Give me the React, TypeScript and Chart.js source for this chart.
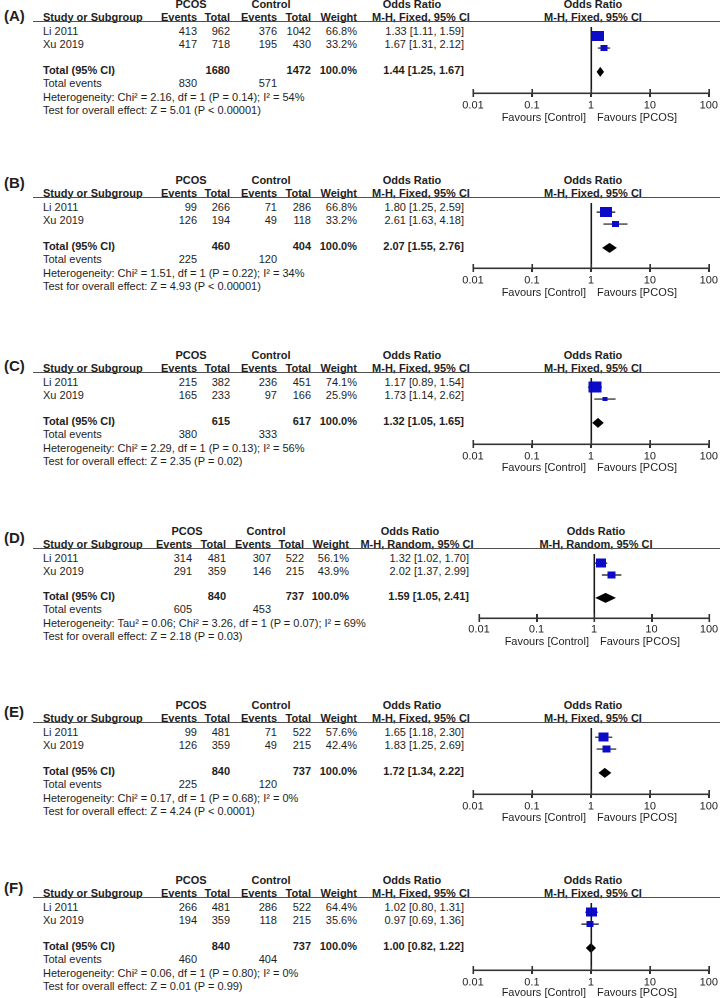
import React, { useEffect, useRef, useState } from "react";
import { Chart, registerables } from "chart.js";

Chart.register(...registerables);

// ---------------- DATA ----------------
const panelLabels = ["(A)", "(B)", "(C)", "(D)", "(E)", "(F)"];
const methods = ["Fixed", "Fixed", "Fixed", "Random", "Fixed", "Fixed"];
const studyNames = ["Li 2011", "Xu 2019"];
const pcosEvents = [[413, 417], [99, 126], [215, 165], [314, 291], [99, 126], [266, 194]];
const pcosTotals = [[962, 718], [266, 194], [382, 233], [481, 359], [481, 359], [481, 359]];
const controlEvents = [[376, 195], [71, 49], [236, 97], [307, 146], [71, 49], [286, 118]];
const controlTotals = [[1042, 430], [286, 118], [451, 166], [522, 215], [522, 215], [522, 215]];
const weights = [[66.8, 33.2], [66.8, 33.2], [74.1, 25.9], [56.1, 43.9], [57.6, 42.4], [64.4, 35.6]];
const oddsRatios = [[1.33, 1.67], [1.8, 2.61], [1.17, 1.73], [1.32, 2.02], [1.65, 1.83], [1.02, 0.97]];
const ciLower = [[1.11, 1.31], [1.25, 1.63], [0.89, 1.14], [1.02, 1.37], [1.18, 1.25], [0.8, 0.69]];
const ciUpper = [[1.59, 2.12], [2.59, 4.18], [1.54, 2.62], [1.7, 2.99], [2.3, 2.69], [1.31, 1.36]];
const pooledOR = [1.44, 2.07, 1.32, 1.59, 1.72, 1.0];
const pooledLower = [1.25, 1.55, 1.05, 1.05, 1.34, 0.82];
const pooledUpper = [1.67, 2.76, 1.65, 2.41, 2.22, 1.22];
const pcosTotalSum = [1680, 460, 615, 840, 840, 840];
const controlTotalSum = [1472, 404, 617, 737, 737, 737];
const pcosEventSum = [830, 225, 380, 605, 225, 460];
const controlEventSum = [571, 120, 333, 453, 120, 404];
const heterogeneity = [
  "Heterogeneity: Chi\u00b2 = 2.16, df = 1 (P = 0.14); I\u00b2 = 54%",
  "Heterogeneity: Chi\u00b2 = 1.51, df = 1 (P = 0.22); I\u00b2 = 34%",
  "Heterogeneity: Chi\u00b2 = 2.29, df = 1 (P = 0.13); I\u00b2 = 56%",
  "Heterogeneity: Tau\u00b2 = 0.06; Chi\u00b2 = 3.26, df = 1 (P = 0.07); I\u00b2 = 69%",
  "Heterogeneity: Chi\u00b2 = 0.17, df = 1 (P = 0.68); I\u00b2 = 0%",
  "Heterogeneity: Chi\u00b2 = 0.06, df = 1 (P = 0.80); I\u00b2 = 0%",
];
const overallTests = [
  "Test for overall effect: Z = 5.01 (P < 0.00001)",
  "Test for overall effect: Z = 4.93 (P < 0.00001)",
  "Test for overall effect: Z = 2.35 (P = 0.02)",
  "Test for overall effect: Z = 2.18 (P = 0.03)",
  "Test for overall effect: Z = 4.24 (P < 0.0001)",
  "Test for overall effect: Z = 0.01 (P = 0.99)",
];
const tickValues = [0.01, 0.1, 1, 10, 100];
const tickLabels = ["0.01", "0.1", "1", "10", "100"];
const nullEffect = 1;
const favoursLeft = "Favours [Control]";
const favoursRight = "Favours [PCOS]";

// ---------------- LAYOUT ----------------
const FONT = "'Liberation Sans', Arial, Helvetica, sans-serif";
const TEXT = "#1e1e1e";
const LINE = "#1a1a1a";
const AXIS = "#333333";
const panelTop = [17, 193, 368, 544, 718, 893];
const labelTop = [15, 182, 365, 537, 711, 887];
const axisOffset = [76, 75, 76, 74, 76, 77];
const favoursOffset = [100, 99, 99, 97, 99, 99];
const standardLayout = {
  cols: [197, 230, 277, 311, 357],
  pcosCenter: 191,
  controlCenter: 271,
  orRight: 464,
  orHeadCenter: 412,
  orSubCenter: 421,
  plotLeft: 473,
  rows: [14, 27, 53, 66, 80, 93],
};
const randomLayout = {
  cols: [192, 226, 271, 304, 349],
  pcosCenter: 187,
  controlCenter: 266,
  orRight: 469,
  orHeadCenter: 410,
  orSubCenter: 417,
  plotLeft: 479,
  rows: [14, 27, 52, 65, 79, 92],
};
const PLOT_RIGHT = 709;
const CANVAS_LEFT = 440;
const CANVAS_W = 280;
const AXIS_H = 22;
const ROW_PITCH = 13;

type Align = "left" | "right" | "center";

function T(props: { x: number; y: number; text: string; align?: Align; bold?: boolean; size?: number }) {
  const { x, y, text, align = "left", bold = false, size = 11 } = props;
  const lh = size + 2;
  const tx = align === "left" ? "0" : align === "right" ? "-100%" : "-50%";
  return (
    <div
      style={{
        position: "absolute",
        left: x,
        top: y - Math.round(lh / 2) + 0.5,
        transform: `translateX(${tx})`,
        whiteSpace: "nowrap",
        fontFamily: FONT,
        fontSize: size,
        lineHeight: `${lh}px`,
        fontWeight: bold ? 700 : 400,
        color: TEXT,
      }}
    >
      {text}
    </div>
  );
}

function squareStyle(w: number) {
  const width = Math.max(3, Math.round(0.405 * Math.pow(w, 0.8)));
  const height = Math.max(3, Math.round(width * 0.86));
  const c = document.createElement("canvas");
  c.width = width;
  c.height = height;
  const g = c.getContext("2d")!;
  g.fillStyle = "#0b0bc8";
  g.fillRect(0, 0, width, height);
  return c;
}

type Geo = { ref: number; top: number; bottom: number; ticks: number[] };

function Panel({ p }: { p: number }) {
  const ref = useRef<HTMLCanvasElement | null>(null);
  const [geo, setGeo] = useState<Geo | null>(null);
  const L = methods[p] === "Random" ? randomLayout : standardLayout;
  const y0 = panelTop[p];
  const ax = axisOffset[p];
  const canvasTop = y0 + 4;
  const canvasH = ax - 4 + AXIS_H;
  const onePx = L.plotLeft + ((PLOT_RIGHT - L.plotLeft) * 2) / 4;

  useEffect(() => {
    if (!ref.current) return;
    const yMin = (4 - L.rows[0]) / ROW_PITCH;
    const yMax = (ax - L.rows[0]) / ROW_PITCH;
    const totalRow = (L.rows[2] - L.rows[0]) / ROW_PITCH;

    const forestPlugin = {
      id: "forest" + p,
      beforeDatasetsDraw(chart: any) {
        const { ctx, chartArea, scales } = chart;
        const x = scales.x;
        ctx.save();
        ctx.fillStyle = LINE;
        const px = Math.round(x.getPixelForValue(nullEffect));
        ctx.fillRect(px - 0.5, chartArea.top, 1.6, chartArea.bottom - chartArea.top);
        ctx.fillStyle = AXIS;
        const x0 = x.getPixelForValue(tickValues[0]);
        const x1 = x.getPixelForValue(tickValues[tickValues.length - 1]);
        ctx.fillRect(x0, chartArea.bottom - 0.5, x1 - x0 + 1, 1.6);
        tickValues.forEach((v) => {
          const tx = x.getPixelForValue(v);
          ctx.fillRect(tx - 0.5, chartArea.bottom - 4, 1.6, 8);
        });
        ctx.restore();
      },
      afterDatasetsDraw(chart: any) {
        const { ctx, scales } = chart;
        const x = scales.x;
        const y = scales.y;
        const yc = y.getPixelForValue(totalRow);
        const xl = x.getPixelForValue(pooledLower[p]);
        const xm = x.getPixelForValue(pooledOR[p]);
        const xh = x.getPixelForValue(pooledUpper[p]);
        ctx.save();
        ctx.fillStyle = "#000";
        ctx.beginPath();
        ctx.moveTo(xl, yc);
        ctx.lineTo(xm, yc - 5);
        ctx.lineTo(xh, yc);
        ctx.lineTo(xm, yc + 5);
        ctx.closePath();
        ctx.fill();
        ctx.restore();
      },
    };

    const whiskers = studyNames.map((_, i) => ({
      type: "scatter" as const,
      data: [
        { x: ciLower[p][i], y: i },
        { x: ciUpper[p][i], y: i },
      ],
      showLine: true,
      borderColor: "#111",
      borderWidth: 1.2,
      pointRadius: 0,
      order: 2,
    }));

    const chart = new Chart(ref.current, {
      type: "scatter",
      data: {
        datasets: [
          {
            type: "scatter",
            data: studyNames.map((_, i) => ({ x: oddsRatios[p][i], y: i })),
            pointStyle: weights[p].map((w) => squareStyle(w)) as any,
            pointRadius: 6,
            borderWidth: 0,
            order: 1,
          } as any,
          ...whiskers,
        ],
      },
      options: {
        animation: false,
        responsive: false,
        devicePixelRatio: 2,
        events: [],
        plugins: { legend: { display: false }, tooltip: { enabled: false } },
        layout: {
          padding: { left: L.plotLeft - CANVAS_LEFT, right: CANVAS_LEFT + CANVAS_W - PLOT_RIGHT, top: 0, bottom: 0 },
        },
        scales: {
          x: {
            type: "logarithmic",
            position: "bottom",
            min: 0.01,
            max: 100,
            afterBuildTicks: (s: any) => {
              s.ticks = tickValues.map((v) => ({ value: v }));
            },
            afterFit: (s: any) => {
              s.height = AXIS_H;
            },
            ticks: {
              autoSkip: false,
              maxRotation: 0,
              padding: p === 3 ? 1 : 2,
              color: "#222",
              font: { family: FONT, size: 11 },
              callback: (v: any) => tickLabels[tickValues.indexOf(Number(v))] ?? "",
            },
            grid: { drawOnChartArea: false, drawTicks: true, tickLength: 4, color: AXIS, lineWidth: 1.5 },
            border: { display: true, color: AXIS, width: 1.5 },
          },
          y: { type: "linear", display: false, min: yMin, max: yMax, reverse: true },
        },
      },
      plugins: [forestPlugin],
    } as any);

    const xs: any = chart.scales.x;
    setGeo({
      ref: xs.getPixelForValue(nullEffect),
      top: chart.chartArea.top,
      bottom: chart.chartArea.bottom,
      ticks: tickValues.map((v) => xs.getPixelForValue(v)),
    });
    return () => chart.destroy();
  }, [p]);

  const r = L.rows;
  return (
    <>
      <T x={4} y={labelTop[p]} text={panelLabels[p]} bold size={15} />
      <T x={L.pcosCenter} y={y0 - 13} text="PCOS" bold align="center" />
      <T x={L.controlCenter} y={y0 - 13} text="Control" bold align="center" />
      <T x={L.orHeadCenter} y={y0 - 13} text="Odds Ratio" bold align="center" />
      <T x={onePx + 2} y={y0 - 13} text="Odds Ratio" bold align="center" />
      <T x={43} y={y0} text="Study or Subgroup" bold />
      <T x={L.cols[0]} y={y0} text="Events" bold align="right" />
      <T x={L.cols[1]} y={y0} text="Total" bold align="right" />
      <T x={L.cols[2]} y={y0} text="Events" bold align="right" />
      <T x={L.cols[3]} y={y0} text="Total" bold align="right" />
      <T x={L.cols[4]} y={y0} text="Weight" bold align="right" />
      <T x={L.orSubCenter} y={y0} text={`M-H, ${methods[p]}, 95% CI`} bold align="center" />
      <T x={onePx + 2} y={y0} text={`M-H, ${methods[p]}, 95% CI`} bold align="center" />
      <div style={{ position: "absolute", left: 33, top: y0 + 4, width: 720 - 33, height: 1, background: "#505050" }} />
      {studyNames.map((name, i) => (
        <React.Fragment key={name}>
          <T x={43} y={y0 + r[i]} text={name} />
          <T x={L.cols[0]} y={y0 + r[i]} text={String(pcosEvents[p][i])} align="right" />
          <T x={L.cols[1]} y={y0 + r[i]} text={String(pcosTotals[p][i])} align="right" />
          <T x={L.cols[2]} y={y0 + r[i]} text={String(controlEvents[p][i])} align="right" />
          <T x={L.cols[3]} y={y0 + r[i]} text={String(controlTotals[p][i])} align="right" />
          <T x={L.cols[4]} y={y0 + r[i]} text={`${weights[p][i].toFixed(1)}%`} align="right" />
          <T
            x={L.orRight}
            y={y0 + r[i]}
            text={`${oddsRatios[p][i].toFixed(2)} [${ciLower[p][i].toFixed(2)}, ${ciUpper[p][i].toFixed(2)}]`}
            align="right"
          />
        </React.Fragment>
      ))}
      <T x={43} y={y0 + r[2]} text="Total (95% CI)" bold />
      <T x={L.cols[1]} y={y0 + r[2]} text={String(pcosTotalSum[p])} bold align="right" />
      <T x={L.cols[3]} y={y0 + r[2]} text={String(controlTotalSum[p])} bold align="right" />
      <T x={L.cols[4]} y={y0 + r[2]} text="100.0%" bold align="right" />
      <T
        x={L.orRight}
        y={y0 + r[2]}
        text={`${pooledOR[p].toFixed(2)} [${pooledLower[p].toFixed(2)}, ${pooledUpper[p].toFixed(2)}]`}
        bold
        align="right"
      />
      <T x={43} y={y0 + r[3]} text="Total events" />
      <T x={L.cols[0]} y={y0 + r[3]} text={String(pcosEventSum[p])} align="right" />
      <T x={L.cols[2]} y={y0 + r[3]} text={String(controlEventSum[p])} align="right" />
      <T x={43} y={y0 + r[4]} text={heterogeneity[p]} />
      <T x={43} y={y0 + r[5]} text={overallTests[p]} />
      <canvas
        ref={ref}
        width={CANVAS_W}
        height={canvasH}
        style={{ position: "absolute", left: CANVAS_LEFT, top: canvasTop, width: CANVAS_W, height: canvasH }}
      />
      {geo && (
        <>
          <div
            style={{
              position: "absolute",
              left: CANVAS_LEFT + Math.round(geo.ref) - 0.5,
              top: canvasTop + Math.round(geo.top),
              width: 1.6,
              height: Math.round(geo.bottom - geo.top),
              background: LINE,
              zIndex: 5,
            }}
          />
          <div
            style={{
              position: "absolute",
              left: CANVAS_LEFT + Math.round(geo.ticks[0]),
              top: canvasTop + Math.round(geo.bottom) - 0.5,
              width: Math.round(geo.ticks[geo.ticks.length - 1] - geo.ticks[0]) + 1,
              height: 1.6,
              background: AXIS,
              zIndex: 5,
            }}
          />
          {geo.ticks.map((t, i) => (
            <div
              key={i}
              style={{
                position: "absolute",
                left: CANVAS_LEFT + Math.round(t) - 0.5,
                top: canvasTop + Math.round(geo.bottom) - 4,
                width: 1.6,
                height: 8,
                background: AXIS,
                zIndex: 5,
              }}
            />
          ))}
        </>
      )}
      <T x={onePx - 5} y={y0 + favoursOffset[p]} text={favoursLeft} align="right" />
      <T x={onePx + 6} y={y0 + favoursOffset[p]} text={favoursRight} />
    </>
  );
}

export default function App() {
  return (
    <div
      style={{
        position: "absolute",
        left: 0,
        top: 0,
        width: 720,
        height: 998,
        background: "#fff",
        overflow: "hidden",
      }}
    >
      {panelLabels.map((_, p) => (
        <Panel key={p} p={p} />
      ))}
    </div>
  );
}
